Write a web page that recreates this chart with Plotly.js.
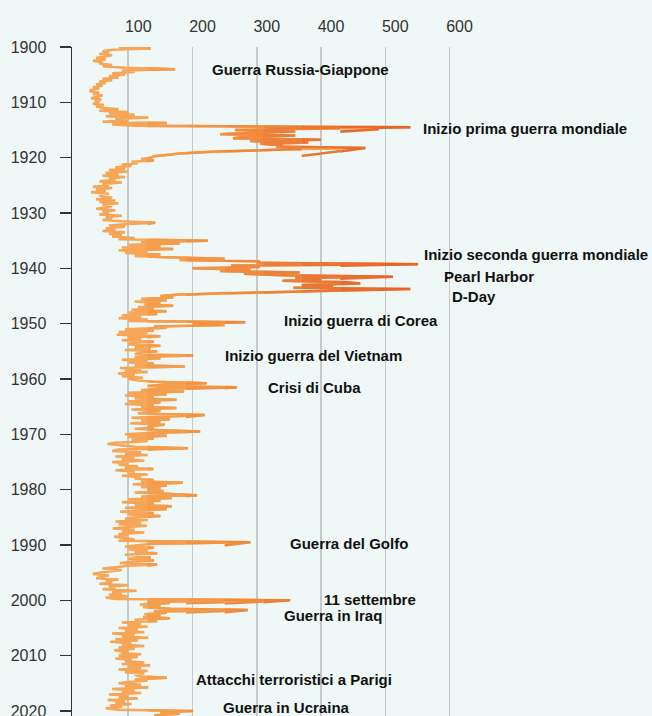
<!DOCTYPE html>
<html><head><meta charset="utf-8">
<script src="https://cdn.plot.ly/plotly-3.0.1.min.js"></script>
<style>html,body{margin:0;padding:0;background:#eff8f6;overflow:hidden;}</style>
</head><body><div id="chart" style="width:652px;height:716px;"></div>
<script>
// Geopolitical risk index, quarterly readings (4 per year)
const startYear = 1900;
const stepsPerYear = 4;
const gpr1900s = [85,135,75,60, 70,55,75,60, 50,65,45,60, 55,75,60,95, 173,90,110,75, 95,70,85,60, 75,55,65,50, 60,45,55,42, 40,55,45,60, 50,42,58,48];
const gpr1910s = [55,45,62,50, 60,85,55,100, 70,110,65,131, 80,100,60,160, 75,110,539,370, 266,360,300,243, 360,280,263,400, 290,380,305,340, 330,469,350,260, 210,180,160,140];
const gpr1920s = [135,120,140,105, 115,90,105,80, 95,70,100,65, 85,60,95,70, 80,55,90,60, 70,45,75,50, 65,42,70,55, 60,75,50,80, 55,85,60,75, 65,50,80,60];
const gpr1930s = [70,55,90,65, 75,60,90,142, 100,70,95,65, 80,60,95,70, 90,75,110,85, 224,120,180,100, 150,90,170,85, 130,95,150,110, 160,250,180,305, 300,551,260,305];
const gpr1940s = [200,290,243,367, 280,340,512,360, 400,340,440,461, 370,419,357,539, 430,330,240,180, 150,170,120,160, 110,150,125,170, 115,140,105,160, 100,145,90,120, 85,130,100,282];
const gpr1950s = [200,250,140,160, 95,140,85,130, 82,150,100,120, 90,140,105,100, 150,110,135,95, 145,120,110,201, 110,150,90,130, 100,140,110,188, 87,120,95,130, 84,110,90,123];
const gpr1960s = [100,115,140,222, 160,130,269,150, 120,187,100,160, 95,140,110,175, 100,150,95,140, 120,175,105,150, 130,115,219,160, 105,165,120,150, 103,157,130,140, 110,150,212,130];
const gpr1970s = [95,160,100,140, 105,130,80,68, 90,110,193,85, 75,120,95,130, 80,110,90,125, 75,100,85,115, 95,139,80,110, 100,130,90,120, 110,139,120,185, 107,160,120,150];
const gpr1980s = [130,155,110,160, 207,120,168,100, 150,90,140,110, 168,95,160,120, 87,140,100,150, 110,95,130,80, 120,85,129,100, 76,110,90,125, 85,100,78,95, 110,85,290,140];
const gpr1990s = [120,95,140,100, 130,110,145,95, 120,135,100,140, 110,87,145,100, 80,60,90,70, 55,45,70,60, 50,85,65,75, 55,100,70,80, 60,113,75,90, 70,100,65,80];
const gpr2000s = [352,130,165,118, 150,123,165,286, 140,160,125,150, 123,165,110,145, 90,120,100,130, 85,115,95,125, 75,110,90,131, 80,115,72,105, 90,125,85,110, 78,100,88,120];
const gpr2010s = [85,115,80,105, 95,125,90,134, 100,120,85,130, 95,125,110,120, 160,110,130,100, 85,120,95,131, 75,110,90,120, 70,100,85,115, 68,95,80,105, 72,90,65,85];
const gpr2020s = [201,150,180,140];

const yTicks = [1900,1910,1920,1930,1940,1950,1960,1970,1980,1990,2000,2010,2020];
const xTicks = [100,200,300,400,500,600];
const eventLabels = ["Guerra Russia-Giappone","Inizio prima guerra mondiale","Inizio seconda guerra mondiale","Pearl Harbor","D-Day","Inizio guerra di Corea","Inizio guerra del Vietnam","Crisi di Cuba","Guerra del Golfo","11 settembre","Guerra in Iraq","Attacchi terroristici a Parigi","Guerra in Ucraina"];

const values = [].concat(gpr1900s,gpr1910s,gpr1920s,gpr1930s,gpr1940s,gpr1950s,gpr1960s,gpr1970s,gpr1980s,gpr1990s,gpr2000s,gpr2010s,gpr2020s);
const years = values.map((v,i) => startYear + i/stepsPerYear);

// layout / styling
const X0 = 12.5, X1 = 915;
const bandEdges = [130,190,250,310,370,430,490,X1];
const bandColors = ['#f49d4c','#f29444','#f08a3e','#ed8038','#eb7532','#e96c2e','#e7642a'];
const baseColor = '#f6a656';
const lineW = 2.5;

const traces = [{x: values, y: years, type:'scatter', mode:'lines', xaxis:'x', yaxis:'y',
  line:{color:baseColor, width:lineW}, hoverinfo:'skip', showlegend:false}];

const layout = {
  width:652, height:716,
  margin:{l:72, r:0, t:47, b:0},
  paper_bgcolor:'#eff8f6', plot_bgcolor:'rgba(0,0,0,0)',
  showlegend:false,
  font:{family:'"Liberation Sans", Arial, sans-serif', color:'#333'},
  xaxis:{domain:[0,1], range:[X0,X1], side:'top', anchor:'y', tickvals:xTicks, ticktext:xTicks.map(String),
    showgrid:true, gridcolor:'#c6c9c9', gridwidth:1.5, zeroline:false, showline:false, ticks:'',
    tickfont:{size:16, color:'#333'}, ticklabelshift:10, ticklabelstandoff:11, fixedrange:true},
  yaxis:{range:[2020.9,1900], anchor:'x', tickvals:yTicks, ticktext:yTicks.map(String), showgrid:false, zeroline:false,
    showline:true, linecolor:'#333', linewidth:1.5, ticks:'outside', ticklen:11, tickwidth:1.5, tickcolor:'#333',
    tickfont:{size:16, color:'#333'}, ticklabelstandoff:10, ticklabeloverflow:'allow', fixedrange:true},
  annotations:[]
};

let lo = bandEdges[0];
for (let k=0;k<bandColors.length;k++){
  const hi = bandEdges[k+1];
  const ax = 'x'+(k+2);
  layout['xaxis'+(k+2)] = {domain:[(lo-X0)/(X1-X0),(hi-X0)/(X1-X0)], range:[lo,hi], visible:false, anchor:'y', fixedrange:true};
  traces.push({x: values, y: years, type:'scatter', mode:'lines', xaxis:ax, yaxis:'y',
    line:{color:bandColors[k], width:lineW}, hoverinfo:'skip', showlegend:false});
  lo = hi;
}

// label anchor positions (value, year) for each event label
const labelPos = [[227,1903.98],[555,1914.64],[557,1937.41],[589,1941.39],[600,1945.0],[340,1949.34],[247,1955.67],[315,1961.45],[348,1989.64],[401,1999.76],[340,2002.66],[203,2014.22],[244,2019.3]];
eventLabels.forEach((t,i)=>{
  layout.annotations.push({text:t, x:labelPos[i][0], y:labelPos[i][1], xref:'x', yref:'y', xanchor:'left', yanchor:'middle',
    showarrow:false, font:{size:15, color:'#111', weight:'bold'}});
});

Plotly.newPlot('chart', traces, layout, {displayModeBar:false, staticPlot:true});
</script></body></html>
